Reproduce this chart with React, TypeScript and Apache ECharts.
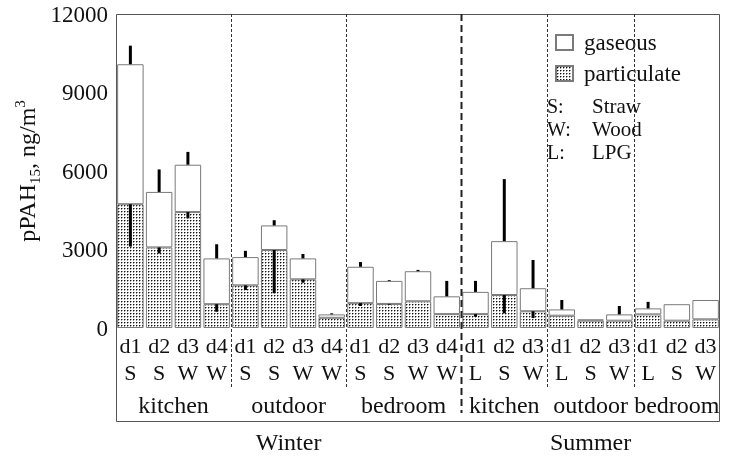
import React, { useEffect, useRef } from 'react';
import * as echarts from 'echarts';

const dLabels = ['d1', 'd2', 'd3', 'd4', 'd1', 'd2', 'd3', 'd4', 'd1', 'd2', 'd3', 'd4', 'd1', 'd2', 'd3', 'd1', 'd2', 'd3', 'd1', 'd2', 'd3'];
const fuelLabels = ['S', 'S', 'W', 'W', 'S', 'S', 'W', 'W', 'S', 'S', 'W', 'W', 'L', 'S', 'W', 'L', 'S', 'W', 'L', 'S', 'W'];
const locations = ['kitchen', 'outdoor', 'bedroom', 'kitchen', 'outdoor', 'bedroom'];
const locationSizes = [4, 4, 4, 3, 3, 3];
const seasons = ['Winter', 'Summer'];
const seasonSizes = [12, 9];

const totalValues = [10080, 5200, 6240, 2660, 2710, 3920, 2660, 520, 2340, 1800, 2170, 1210, 1380, 3320, 1520, 710, 330, 520, 750, 910, 1070];
const particulateValues = [4730, 3080, 4430, 910, 1630, 2980, 1860, 390, 950, 920, 1020, 530, 530, 1260, 640, 470, 280, 280, 520, 280, 330];
const gaseousSD = [710, 860, 490, 540, 240, 200, 170, 40, 180, 30, 50, 590, 420, 2370, 1080, 360, 0, 320, 250, 0, 0];
const particulateSD = [1620, 230, 240, 290, 180, 1650, 130, 0, 110, 30, 0, 0, 100, 700, 260, 0, 0, 0, 0, 0, 0];

const yMin = 0;
const yMax = 12000;
const yInterval = 3000;

const fuelNotes = [
  ['S:', 'Straw'],
  ['W:', 'Wood'],
  ['L:', 'LPG'],
];

const FONT = '"Liberation Serif", "Times New Roman", Times, serif';

function makeDotPattern(): HTMLCanvasElement {
  const c = document.createElement('canvas');
  c.width = 3;
  c.height = 3;
  const ctx = c.getContext('2d')!;
  ctx.fillStyle = '#ffffff';
  ctx.fillRect(0, 0, 3, 3);
  ctx.fillStyle = '#111111';
  ctx.fillRect(1, 1, 1, 1);
  ctx.fillStyle = '#9a9a9a';
  ctx.fillRect(2, 1, 1, 1);
  ctx.fillRect(1, 2, 1, 1);
  return c;
}

export default function App() {
  const ref = useRef<HTMLDivElement>(null);

  useEffect(() => {
    if (!ref.current) return;
    const chart = echarts.init(ref.current, null, { renderer: 'svg' });
    const pattern: any = { image: makeDotPattern(), repeat: 'repeat', imageWidth: 3, imageHeight: 3 };

    const gaseousValues = totalValues.map((t, i) => t - particulateValues[i]);
    const errData: number[][] = [];
    totalValues.forEach((t, i) => {
      if (gaseousSD[i] > 0) errData.push([i, t, t + gaseousSD[i]]);
      if (particulateSD[i] > 0) errData.push([i, particulateValues[i], particulateValues[i] - particulateSD[i]]);
    });

    const gridLeft = 116;
    const gridTop = 14;
    const gridRight = 9;
    const gridBottom = 128;

    chart.setOption({
      animation: false,
      grid: { left: gridLeft, right: gridRight, top: gridTop, bottom: gridBottom, containLabel: false },
      legend: {
        data: ['gaseous', 'particulate'],
        orient: 'vertical',
        left: 555,
        top: 31,
        padding: 0,
        itemWidth: 17,
        itemHeight: 15,
        itemGap: 8,
        icon: 'rect',
        selectedMode: false,
        textStyle: { fontFamily: FONT, fontSize: 23, color: '#111', padding: [0, 0, 0, 6] },
      },
      xAxis: [
        {
          type: 'category',
          data: dLabels,
          position: 'bottom',
          axisLine: { show: false },
          axisTick: { show: false },
          axisLabel: { fontFamily: FONT, fontSize: 22, color: '#111', margin: 6, interval: 0 },
        },
        {
          type: 'category',
          data: fuelLabels,
          position: 'bottom',
          offset: 27,
          axisLine: { show: false },
          axisTick: { show: false },
          axisLabel: { fontFamily: FONT, fontSize: 22, color: '#111', margin: 6, interval: 0 },
        },
      ],
      yAxis: {
        type: 'value',
        min: yMin,
        max: yMax,
        interval: yInterval,
        axisLine: { show: false },
        axisTick: { show: false },
        splitLine: { show: false },
        axisLabel: {
          fontFamily: FONT,
          fontSize: 23,
          color: '#111',
          margin: 8,
          formatter: (v: number) => String(v),
        },
      },
      series: [
        {
          name: 'particulate',
          type: 'bar',
          stack: 'total',
          barWidth: '92%',
          data: particulateValues,
          itemStyle: { color: pattern, borderColor: '#7a7a7a', borderWidth: 1 },
        },
        {
          name: 'gaseous',
          type: 'bar',
          stack: 'total',
          barWidth: '92%',
          data: gaseousValues,
          itemStyle: { color: '#ffffff', borderColor: '#7a7a7a', borderWidth: 1 },
        },
        {
          name: 'error',
          type: 'custom',
          z: 5,
          encode: { x: 0, y: [1, 2] },
          data: errData,
          renderItem: (params: any, api: any) => {
            const i = api.value(0);
            const a = api.coord([i, api.value(1)]);
            const b = api.coord([i, api.value(2)]);
            return {
              type: 'line',
              shape: { x1: a[0], y1: a[1], x2: b[0], y2: b[1] },
              style: { stroke: '#000', lineWidth: 3 },
            };
          },
        },
      ],
    });

    const px = (i: number) => chart.convertToPixel({ xAxisIndex: 0 }, i) as number;
    const band = px(1) - px(0);
    const width = ref.current.clientWidth;
    const frameLeft = gridLeft;
    const frameRight = width - gridRight;
    const frameTop = gridTop;
    const frameBottom = 421;

    const graphics: any[] = [];
    graphics.push({
      type: 'rect',
      z: 10,
      shape: { x: frameLeft + 0.5, y: frameTop + 0.5, width: frameRight - frameLeft - 1, height: frameBottom - frameTop },
      style: { fill: 'none', stroke: '#555', lineWidth: 1 },
    });

    let start = 0;
    const seasonBoundary = seasonSizes[0];
    locationSizes.forEach((size, gi) => {
      const end = start + size - 1;
      const cx = (px(start) + px(end)) / 2;
      graphics.push({
        type: 'text',
        z: 10,
        x: cx,
        y: 405,
        style: { text: locations[gi], fontFamily: FONT, fontSize: 24, fill: '#111', align: 'center', verticalAlign: 'middle' },
      });
      const next = start + size;
      if (next < dLabels.length) {
        const bx = Math.round(px(next) - band / 2) + 0.5;
        if (next === seasonBoundary) {
          graphics.push({
            type: 'line',
            z: 10,
            shape: { x1: bx, y1: frameTop, x2: bx, y2: 413 },
            style: { stroke: '#222', lineWidth: 2, lineDash: [7, 4] },
          });
        } else {
          graphics.push({
            type: 'line',
            z: 10,
            shape: { x1: bx, y1: frameTop, x2: bx, y2: 388 },
            style: { stroke: '#333', lineWidth: 1, lineDash: [3, 2] },
          });
        }
      }
      start = next;
    });

    let sStart = 0;
    seasonSizes.forEach((size, si) => {
      const end = sStart + size - 1;
      const cx = (px(sStart) + px(end)) / 2;
      graphics.push({
        type: 'text',
        x: cx,
        y: 442,
        style: { text: seasons[si], fontFamily: FONT, fontSize: 24, fill: '#111', align: 'center', verticalAlign: 'middle' },
      });
      sStart += size;
    });

    fuelNotes.forEach((n, k) => {
      const y = 106 + k * 23;
      graphics.push({
        type: 'text', z: 10, x: 547, y,
        style: { text: n[0], fontFamily: FONT, fontSize: 20, fill: '#111', align: 'left', verticalAlign: 'middle' },
      });
      graphics.push({
        type: 'text', z: 10, x: 592, y,
        style: { text: n[1], fontFamily: FONT, fontSize: 21, fill: '#111', align: 'left', verticalAlign: 'middle' },
      });
    });

    graphics.push({
      type: 'text',
      x: 27,
      y: 171,
      rotation: Math.PI / 2,
      style: {
        text: '{a|pPAH}{b|15}{a|, ng/m}{c|3}',
        align: 'center',
        verticalAlign: 'middle',
        fill: '#111',
        rich: {
          a: { fontFamily: FONT, fontSize: 24, lineHeight: 30, verticalAlign: 'middle', fill: '#111' },
          b: { fontFamily: FONT, fontSize: 15, lineHeight: 30, verticalAlign: 'bottom', fill: '#111' },
          c: { fontFamily: FONT, fontSize: 15, lineHeight: 30, verticalAlign: 'top', fill: '#111' },
        },
      },
    });

    chart.setOption({ graphic: graphics });

    return () => chart.dispose();
  }, []);

  return <div ref={ref} style={{ position: 'fixed', left: 0, top: 0, width: 729, height: 456 }} />;
}
